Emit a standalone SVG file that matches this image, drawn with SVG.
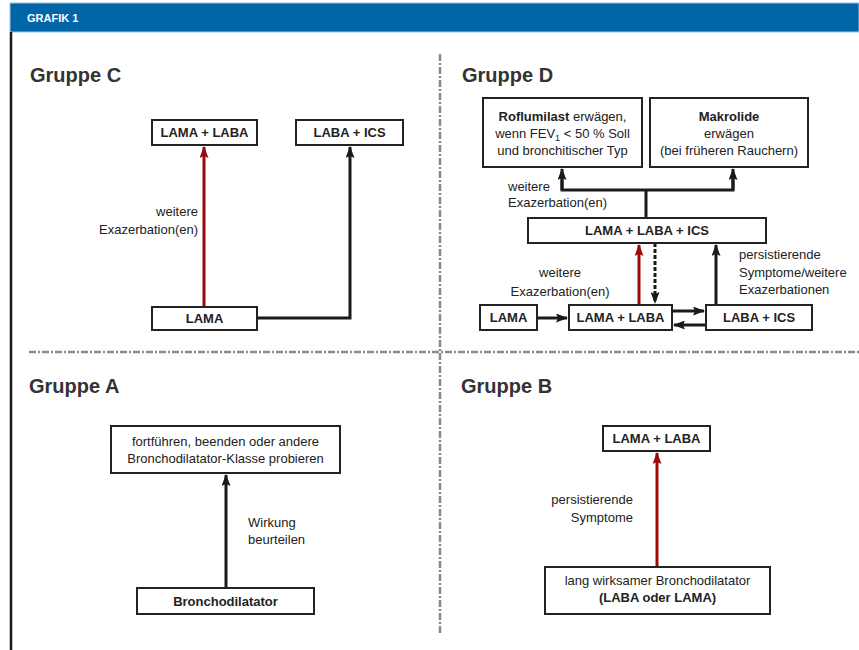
<svg xmlns="http://www.w3.org/2000/svg" width="859" height="650" viewBox="0 0 859 650">
<style>
.box{fill:#fff;stroke:#222;stroke-width:2}
.bt{font-family:"Liberation Sans",Arial,sans-serif;font-size:13px;font-weight:bold;fill:#222;text-anchor:middle}
.nt{font-family:"Liberation Sans",Arial,sans-serif;font-size:13px;fill:#222;text-anchor:middle}
.lbl{font-family:"Liberation Sans",Arial,sans-serif;font-size:13px;fill:#222}
.title{font-family:"Liberation Sans",Arial,sans-serif;font-size:20px;font-weight:bold;fill:#333}
.k{fill:none;stroke:#1a1a1a;stroke-width:3}
.r{fill:none;stroke:#9b0a0a;stroke-width:3}
.dv{fill:none;stroke:#8a8a8a;stroke-width:2.5;stroke-dasharray:7 2 2 2}
</style>
<defs>
<marker id="ak" markerWidth="12" markerHeight="9" refX="11" refY="4.5" orient="auto" markerUnits="userSpaceOnUse" viewBox="0 0 12 9"><path d="M0,0 L12,4.5 L0,9 L2,4.5 z" fill="#1a1a1a"/></marker>
<marker id="ar" markerWidth="12" markerHeight="9" refX="11" refY="4.5" orient="auto" markerUnits="userSpaceOnUse" viewBox="0 0 12 9"><path d="M0,0 L12,4.5 L0,9 L2,4.5 z" fill="#9b0a0a"/></marker>
</defs>
<rect x="0" y="0" width="859" height="650" fill="#fff"/>
<rect x="10" y="3" width="849" height="29" fill="#0066a8" stroke="#9cc3e0" stroke-width="1"/>
<text x="27" y="22" font-family="'Liberation Sans',Arial,sans-serif" font-size="11" font-weight="bold" fill="#fff">GRAFIK 1</text>
<line x1="11" y1="32" x2="11" y2="650" stroke="#1a1a1a" stroke-width="2.5"/>
<g id="dividers">
<line class="dv" x1="440" y1="54" x2="440" y2="633"/>
<line class="dv" x1="29" y1="352" x2="859" y2="352"/>
</g>
<text class="title" x="30" y="82">Gruppe C</text>
<text class="title" x="462" y="82">Gruppe D</text>
<text class="title" x="29" y="393">Gruppe A</text>
<text class="title" x="461" y="393">Gruppe B</text>

<g id="connectors">
<line class="r" x1="204" y1="307" x2="204" y2="147" marker-end="url(#ar)"/>
<polyline class="k" points="257,318 350,318 350,147" marker-end="url(#ak)"/>
<line class="k" x1="646" y1="218" x2="646" y2="190"/>
<polyline class="k" points="562,178 562,190 733,190 733,178"/>
<line class="k" x1="562" y1="190" x2="562" y2="169" marker-end="url(#ak)"/>
<line class="k" x1="733" y1="190" x2="733" y2="169" marker-end="url(#ak)"/>
<line class="k" x1="537" y1="318" x2="567" y2="318" marker-end="url(#ak)"/>
<line class="k" x1="672" y1="311" x2="704" y2="311" marker-end="url(#ak)"/>
<line class="k" x1="706" y1="325" x2="674" y2="325" marker-end="url(#ak)"/>
<line class="r" x1="639" y1="305" x2="639" y2="245" marker-end="url(#ar)"/>
<line class="k" x1="655" y1="243" x2="655" y2="303" stroke-dasharray="4 2" marker-end="url(#ak)"/>
<line class="k" x1="716" y1="305" x2="716" y2="245" marker-end="url(#ak)"/>
<line class="k" x1="226" y1="588" x2="226" y2="475" marker-end="url(#ak)"/>
<line class="r" x1="657" y1="567" x2="657" y2="453" marker-end="url(#ar)"/>
</g>

<g id="labels">
<text class="lbl" x="198" y="216" text-anchor="end">weitere</text>
<text class="lbl" x="198" y="234" text-anchor="end">Exazerbation(en)</text>
<text class="lbl" x="508" y="191">weitere</text>
<text class="lbl" x="508" y="207">Exazerbation(en)</text>
<text class="lbl" x="560" y="277" text-anchor="middle">weitere</text>
<text class="lbl" x="560" y="296" text-anchor="middle">Exazerbation(en)</text>
<text class="lbl" x="739" y="259">persistierende</text>
<text class="lbl" x="739" y="277">Symptome/weitere</text>
<text class="lbl" x="739" y="294">Exazerbationen</text>
<text class="lbl" x="248" y="527">Wirkung</text>
<text class="lbl" x="248" y="544">beurteilen</text>
<text class="lbl" x="633" y="504" text-anchor="end">persistierende</text>
<text class="lbl" x="633" y="522" text-anchor="end">Symptome</text>
</g>

<g id="c_lamalaba"><rect class="box" x="152" y="120" width="105" height="25"/><text class="bt" x="204.5" y="137">LAMA + LABA</text></g>
<g id="c_labaics"><rect class="box" x="296" y="120" width="107" height="25"/><text class="bt" x="349.5" y="137">LABA + ICS</text></g>
<g id="c_lama"><rect class="box" x="152" y="307" width="105" height="23"/><text class="bt" x="204.5" y="323">LAMA</text></g>

<g id="d_roflumilast"><rect class="box" x="483" y="98" width="159" height="69"/>
<text class="nt" x="562.5" y="121"><tspan font-weight="bold">Roflumilast</tspan> erwägen,</text>
<text class="nt" x="562.5" y="138">wenn FEV<tspan font-size="9" dy="3">1</tspan><tspan dy="-3"> &lt; 50 % Soll</tspan></text>
<text class="nt" x="562.5" y="155">und bronchitischer Typ</text></g>
<g id="d_makrolide"><rect class="box" x="650" y="98" width="158" height="69"/>
<text class="bt" x="729" y="121">Makrolide</text>
<text class="nt" x="729" y="138">erwägen</text>
<text class="nt" x="729" y="155">(bei früheren Rauchern)</text></g>
<g id="d_triple"><rect class="box" x="528" y="218" width="238" height="25"/><text class="bt" x="647" y="235">LAMA + LABA + ICS</text></g>
<g id="d_lama"><rect class="box" x="480" y="305" width="57" height="25"/><text class="bt" x="508.5" y="322">LAMA</text></g>
<g id="d_lamalaba"><rect class="box" x="569" y="305" width="103" height="25"/><text class="bt" x="620.5" y="322">LAMA + LABA</text></g>
<g id="d_labaics"><rect class="box" x="706" y="305" width="106" height="25"/><text class="bt" x="759" y="322">LABA + ICS</text></g>

<g id="a_top"><rect class="box" x="111" y="426" width="229" height="47"/>
<text class="nt" x="225.5" y="446">fortführen, beenden oder andere</text>
<text class="nt" x="225.5" y="463">Bronchodilatator-Klasse probieren</text></g>
<g id="a_bd"><rect class="box" x="137" y="588" width="177" height="26"/><text class="bt" x="225.5" y="606">Bronchodilatator</text></g>

<g id="b_lamalaba"><rect class="box" x="603" y="426" width="107" height="25"/><text class="bt" x="656.5" y="443">LAMA + LABA</text></g>
<g id="b_bd"><rect class="box" x="545" y="567" width="225" height="47"/>
<text class="nt" x="657.5" y="585">lang wirksamer Bronchodilatator</text>
<text class="bt" x="657.5" y="602">(LABA oder LAMA)</text></g>
</svg>
